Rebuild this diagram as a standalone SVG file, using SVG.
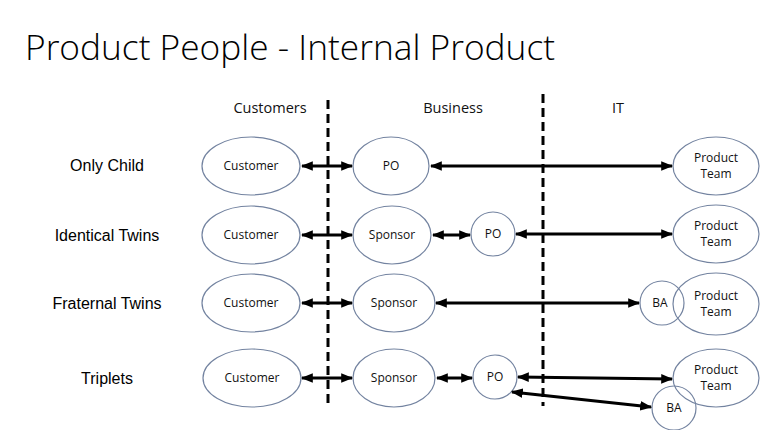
<svg xmlns="http://www.w3.org/2000/svg" width="768" height="430" viewBox="0 0 768 430">
<style>
.n{fill:#fff;stroke:#7383a0;stroke-width:1.2}
.t{font-family:"Open Sans","Liberation Sans",sans-serif;font-size:12px;fill:#111;text-anchor:middle}
.h{font-family:"Open Sans","Liberation Sans",sans-serif;font-size:14.5px;fill:#111;text-anchor:middle}
.r{font-family:"Liberation Sans",Arial,sans-serif;font-size:16px;fill:#000;text-anchor:middle}
.a{stroke:#000;stroke-width:3;fill:none;marker-start:url(#as);marker-end:url(#ae)}
.d{stroke:#000;stroke-width:3;stroke-dasharray:9 5}
</style>
<defs>
<marker id="ae" viewBox="0 0 10 8" refX="9" refY="4" markerWidth="4" markerHeight="3.2" orient="auto" markerUnits="strokeWidth"><path d="M0,0L10,4L0,8Z" fill="#000"/></marker>
<marker id="as" viewBox="0 0 10 8" refX="1" refY="4" markerWidth="4" markerHeight="3.2" orient="auto" markerUnits="strokeWidth"><path d="M10,0L0,4L10,8Z" fill="#000"/></marker>
</defs>
<rect width="768" height="430" fill="#fff"/>
<text x="25" y="60" font-family="Open Sans,Liberation Sans,sans-serif" font-weight="300" font-size="35" textLength="530" lengthAdjust="spacingAndGlyphs" fill="#000">Product People - Internal Product</text>
<g id="headers">
<text class="h" x="270" y="113">Customers</text>
<text class="h" x="453" y="113">Business</text>
<text class="h" x="618" y="113">IT</text>
</g>
<g id="rowlabels">
<text class="r" x="107" y="171">Only Child</text>
<text class="r" x="107" y="241">Identical Twins</text>
<text class="r" x="107" y="309">Fraternal Twins</text>
<text class="r" x="107" y="384">Triplets</text>
</g>
<g id="dividers">
<line class="d" x1="328" y1="100" x2="328" y2="406"/>
<line class="d" x1="543" y1="94" x2="543" y2="406"/>
</g>
<g id="r1-customer"><ellipse class="n" cx="251" cy="166" rx="49" ry="29"/><text class="t" x="251" y="170">Customer</text></g>
<g id="r1-po"><ellipse class="n" cx="391" cy="166" rx="38" ry="29"/><text class="t" x="391" y="170">PO</text></g>
<g id="r1-team"><ellipse class="n" cx="716" cy="166" rx="43" ry="29"/><text class="t" x="716" y="162">Product</text><text class="t" x="716" y="178">Team</text></g>
<g id="r2-customer"><ellipse class="n" cx="251" cy="235" rx="49" ry="29"/><text class="t" x="251" y="239">Customer</text></g>
<g id="r2-sponsor"><ellipse class="n" cx="392" cy="235" rx="39" ry="29"/><text class="t" x="392" y="239">Sponsor</text></g>
<g id="r2-po"><circle class="n" cx="493" cy="234" r="22"/><text class="t" x="493" y="238">PO</text></g>
<g id="r2-team"><ellipse class="n" cx="716" cy="234" rx="43" ry="29"/><text class="t" x="716" y="230">Product</text><text class="t" x="716" y="246">Team</text></g>
<g id="r3-customer"><ellipse class="n" cx="251" cy="303" rx="49" ry="29"/><text class="t" x="251" y="307">Customer</text></g>
<g id="r3-sponsor"><ellipse class="n" cx="394" cy="303" rx="41" ry="29"/><text class="t" x="394" y="307">Sponsor</text></g>
<g id="r3-team"><ellipse class="n" cx="716" cy="304" rx="43" ry="31"/><text class="t" x="716" y="300">Product</text><text class="t" x="716" y="316">Team</text></g>
<g id="r3-ba"><circle cx="662" cy="303" r="22" fill="none" stroke="#7383a0" stroke-width="1.2"/><text class="t" x="660" y="307">BA</text></g>
<g id="r4-customer"><ellipse class="n" cx="252" cy="378" rx="49" ry="29"/><text class="t" x="252" y="382">Customer</text></g>
<g id="r4-sponsor"><ellipse class="n" cx="394" cy="378" rx="41" ry="29"/><text class="t" x="394" y="382">Sponsor</text></g>
<g id="r4-po"><circle class="n" cx="495" cy="377" r="22"/><text class="t" x="495" y="381">PO</text></g>
<g id="r4-team"><ellipse class="n" cx="716" cy="378" rx="43" ry="29"/><text class="t" x="716" y="374">Product</text><text class="t" x="716" y="390">Team</text></g>
<g id="r4-ba"><circle cx="674" cy="408" r="22" fill="none" stroke="#7383a0" stroke-width="1.2"/><text class="t" x="674" y="412">BA</text></g>
<g id="connectors">
<line class="a" x1="302" y1="166" x2="352" y2="166"/>
<line class="a" x1="431" y1="166" x2="672" y2="166"/>
<line class="a" x1="302" y1="235" x2="352" y2="235"/>
<line class="a" x1="433" y1="235" x2="470" y2="235"/>
<line class="a" x1="516" y1="234" x2="672" y2="234"/>
<line class="a" x1="302" y1="303" x2="352" y2="303"/>
<line class="a" x1="436" y1="303" x2="639" y2="303"/>
<line class="a" x1="302" y1="378" x2="352" y2="378"/>
<line class="a" x1="437" y1="378" x2="472" y2="378"/>
<line class="a" x1="518" y1="377" x2="672" y2="379"/>
<line class="a" x1="512" y1="392" x2="651" y2="407"/>
</g>
</svg>
